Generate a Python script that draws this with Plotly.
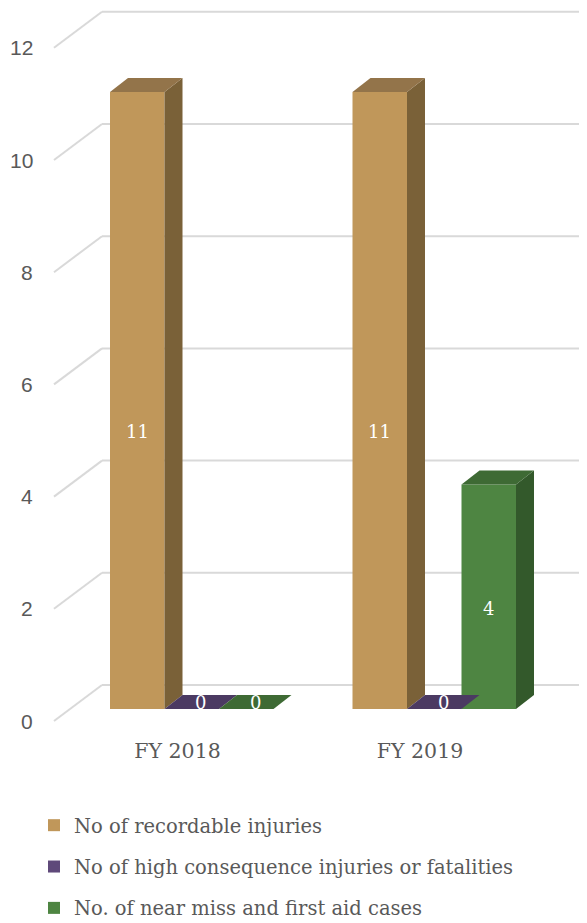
import plotly.graph_objects as go

# ---------------- data ----------------
categories = ["FY 2018", "FY 2019"]
series_names = [
    "No of recordable injuries",
    "No of high consequence injuries or fatalities",
    "No. of near miss and first aid cases",
]
recordable = [11, 11]
high_consequence = [0, 0]
near_miss = [0, 4]
series_values = [recordable, high_consequence, near_miss]
y_ticks = [0, 2, 4, 6, 8, 10, 12]

# ---------------- style ----------------
front_colors = ["#C0975A", "#5F497A", "#4E8542"]
side_colors = ["#7A6138", "#3F3152", "#33592B"]
top_colors = ["#93744A", "#4B3A62", "#3E6A34"]
grid_color = "#D9D9D9"
text_color = "#595959"
serif = "DejaVu Serif"
sans = "Liberation Sans"

OFF = 8               # page body margin of the browser
W, H = 587 + OFF, 923
PX_X = 242.5          # pixels per category unit
PX_Y = 56.1           # pixels per value unit
L_MARGIN = 30
B_PLOT = 728          # figure pixel row of plot bottom
ZERO_PX = 709 - OFF   # figure pixel row of value 0 at bar fronts
LABEL_PX = 177.5 - OFF  # figure pixel column of first category label

x_range = [(L_MARGIN - LABEL_PX) / PX_X, (W - LABEL_PX) / PX_X]
y_range = [(ZERO_PX - B_PLOT) / PX_Y, ZERO_PX / PX_Y]

bar_w = 54.5 / PX_X
bar_start = -67.5 / PX_X
dx = 18 / PX_X
dy = 14 / PX_Y
floor_off = -12 / PX_Y      # front floor edge relative to bar fronts
wall_off = 24 / PX_Y        # back wall relative to bar fronts
floor_x = (54 - OFF - LABEL_PX) / PX_X
wall_x = (102 - OFF - LABEL_PX) / PX_X

fig = go.Figure()

# back wall gridlines + floor diagonals
shapes = []
for v in y_ticks:
    shapes.append(dict(type="line", xref="x", yref="y",
                       x0=floor_x, y0=v + floor_off, x1=wall_x, y1=v + wall_off,
                       line=dict(color=grid_color, width=2), layer="below"))
    shapes.append(dict(type="line", xref="x", yref="y",
                       x0=wall_x, y0=v + wall_off, x1=x_range[1], y1=v + wall_off,
                       line=dict(color=grid_color, width=2), layer="below"))

idx = list(range(len(categories)))

for s, (name, vals) in enumerate(zip(series_names, series_values)):
    off = bar_start + s * bar_w
    # front faces (legend entries)
    fig.add_trace(go.Bar(
        x=idx, y=vals, base=0, offset=off, width=bar_w,
        marker=dict(color=front_colors[s], line=dict(width=0)),
        name=name, legendgroup=name, showlegend=True, hoverinfo="skip",
    ))
    for i, v in enumerate(vals):
        xl = i + off
        xr = xl + bar_w
        if v > 0:
            fig.add_trace(go.Scatter(
                x=[xr, xr + dx, xr + dx, xr, xr],
                y=[0, dy, v + dy, v, 0],
                fill="toself", fillcolor=side_colors[s], mode="lines",
                line=dict(width=0, color=side_colors[s]),
                showlegend=False, hoverinfo="skip",
            ))
        fig.add_trace(go.Scatter(
            x=[xl, xr, xr + dx, xl + dx, xl],
            y=[v, v, v + dy, v + dy, v],
            fill="toself", fillcolor=top_colors[s], mode="lines",
            line=dict(width=0, color=top_colors[s]),
            showlegend=False, hoverinfo="skip",
        ))

# data labels
annotations = []
for s, vals in enumerate(series_values):
    off = bar_start + s * bar_w
    for i, v in enumerate(vals):
        if v > 0:
            lx = i + off + bar_w / 2
            ly = 0.45 * v
        else:
            lx = i + off + bar_w / 2 + dx / 2
            ly = dy / 2
        annotations.append(dict(
            x=lx, y=ly, xref="x", yref="y", text=str(v), showarrow=False,
            font=dict(family=serif, size=18, color="white"),
            xanchor="center", yanchor="middle",
        ))

# y tick labels on the front floor plane
for v in y_ticks:
    annotations.append(dict(
        x=floor_x, y=v + floor_off, xref="x", yref="y", text=str(v),
        showarrow=False, xanchor="right", yanchor="middle", xshift=-19,
        font=dict(family=sans, size=21, color=text_color),
    ))

plot_w = W - L_MARGIN
fig.update_layout(
    width=W, height=H,
    margin=dict(l=L_MARGIN, r=0, t=0, b=H - B_PLOT, autoexpand=False),
    paper_bgcolor="white", plot_bgcolor="white",
    barmode="overlay",
    shapes=shapes,
    annotations=annotations,
    xaxis=dict(range=x_range, tickmode="array", tickvals=idx, ticktext=categories,
               showgrid=False, zeroline=False, showline=False, ticks="",
               tickangle=0, tickfont=dict(family=serif, size=20.5, color=text_color),
               fixedrange=True),
    yaxis=dict(range=y_range, showgrid=False, zeroline=False, showline=False,
               showticklabels=False, ticks="", fixedrange=True),
    legend=dict(
        orientation="v", xref="paper", yref="paper",
        x=(26 - L_MARGIN) / plot_w, y=(B_PLOT - 798) / B_PLOT,
        xanchor="left", yanchor="top",
        font=dict(family=serif, size=19.5, color=text_color),
        tracegroupgap=13, itemsizing="constant",
        bgcolor="rgba(0,0,0,0)",
    ),
    showlegend=True,
)

fig.write_html("out.html")
